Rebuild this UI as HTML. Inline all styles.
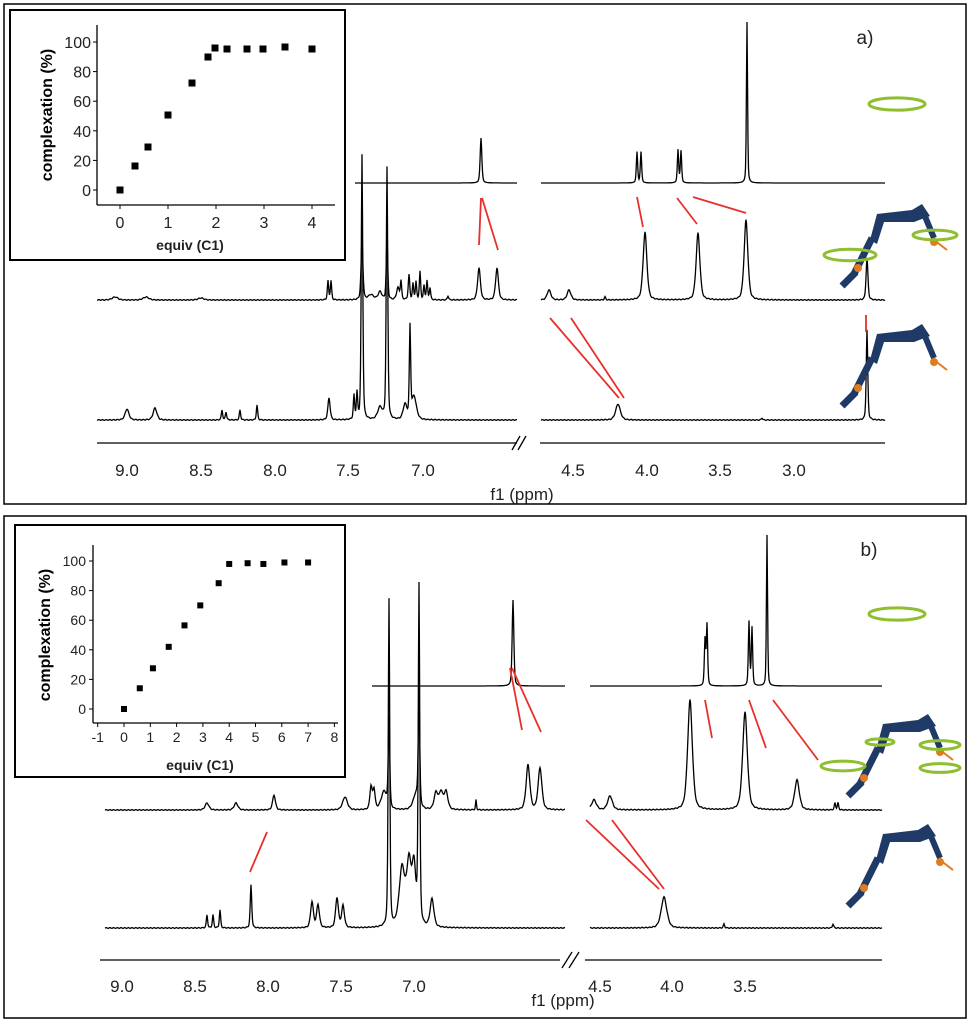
<!DOCTYPE html>
<html><head><meta charset="utf-8"><style>
html,body{margin:0;padding:0;background:#fff}
svg{display:block;font-family:"Liberation Sans",sans-serif}
</style></head><body>
<svg id="s" width="972" height="1024" viewBox="0 0 972 1024" xmlns="http://www.w3.org/2000/svg">
<rect x="4" y="4" width="962" height="500" fill="none" stroke="#000" stroke-width="1.5"/>
<rect x="4" y="516" width="962" height="502" fill="none" stroke="#000" stroke-width="1.5"/>
<g id="g"></g>
<g stroke="#000" stroke-width="1.3">
<line x1="97" y1="443" x2="517" y2="443"/><line x1="540" y1="443" x2="885" y2="443"/>
<line x1="512" y1="450" x2="520" y2="436"/><line x1="518" y1="450" x2="526" y2="436"/>
<line x1="100" y1="960" x2="560" y2="960"/><line x1="585" y1="960" x2="882" y2="960"/>
<line x1="562" y1="968" x2="572" y2="952"/><line x1="569" y1="968" x2="579" y2="952"/>
</g>
<g font-size="17" fill="#222" text-anchor="middle">
<text x="127" y="476">9.0</text><text x="201" y="476">8.5</text><text x="275" y="476">8.0</text><text x="348" y="476">7.5</text><text x="423" y="476">7.0</text>
<text x="573" y="476">4.5</text><text x="647" y="476">4.0</text><text x="720" y="476">3.5</text><text x="794" y="476">3.0</text>
<text x="522" y="500">f1 (ppm)</text>
<text x="122" y="992">9.0</text><text x="195" y="992">8.5</text><text x="268" y="992">8.0</text><text x="341" y="992">7.5</text><text x="414" y="992">7.0</text>
<text x="600" y="992">4.5</text><text x="672" y="992">4.0</text><text x="745" y="992">3.5</text>
<text x="563" y="1006">f1 (ppm)</text>
<text x="865" y="44" font-size="19">a)</text>
<text x="869" y="556" font-size="19">b)</text>
</g>
<g stroke="#e8302a" stroke-width="1.8">
<line x1="481" y1="198" x2="479" y2="245"/><line x1="482" y1="198" x2="498" y2="250"/>
<line x1="637" y1="197" x2="643" y2="227"/><line x1="677" y1="198" x2="697" y2="224"/><line x1="693" y1="197" x2="746" y2="213"/>
<line x1="550" y1="318" x2="619" y2="398"/><line x1="571" y1="318" x2="624" y2="398"/>
<line x1="866" y1="315" x2="866" y2="332"/>
<line x1="267" y1="832" x2="250" y2="872"/>
<line x1="510" y1="668" x2="522" y2="730"/><line x1="512" y1="668" x2="541" y2="732"/>
<line x1="705" y1="700" x2="712" y2="738"/><line x1="749" y1="700" x2="766" y2="748"/><line x1="773" y1="700" x2="818" y2="760"/>
<line x1="586" y1="820" x2="659" y2="889"/><line x1="612" y1="820" x2="664" y2="889"/>
</g>
<rect x="10" y="10" width="335" height="250" fill="#fff" stroke="#000" stroke-width="2"/>
<rect x="15" y="525" width="330" height="252" fill="#fff" stroke="#000" stroke-width="2"/>
<g stroke="#000" stroke-width="1.3">
<line x1="97" y1="25" x2="97" y2="205"/><line x1="97" y1="205" x2="335" y2="205"/>
<line x1="93" y1="545" x2="93" y2="723"/><line x1="93" y1="723" x2="338" y2="723"/>
</g>
<g font-size="14" fill="#222" text-anchor="middle">
<text x="190" y="250" font-weight="bold">equiv (C1)</text>
<text x="200" y="770" font-weight="bold">equiv (C1)</text>
</g>
<g id="ins"></g>
<text transform="translate(52,115) rotate(-90)" font-size="16" font-weight="bold" text-anchor="middle">complexation (%)</text>
<text transform="translate(50,635) rotate(-90)" font-size="16" font-weight="bold" text-anchor="middle">complexation (%)</text>
<g id="icons"></g>
</svg>
<script>
var NS="http://www.w3.org/2000/svg";
function el(p,t,a,txt){var e=document.createElementNS(NS,t);for(var k in a)e.setAttribute(k,a[k]);if(txt!==undefined)e.textContent=txt;p.appendChild(e);return e;}
var g=document.getElementById('g');
function trace(base,segs,peaks,noise){
 segs.forEach(function(sg){
  var d="";
  for(var x=sg[0];x<=sg[1];x+=0.5){
   var y=base;
   peaks.forEach(function(p){var w=p[2]||0.7;var dx=x-p[0];var h=base-p[1];
     y-=h*(0.5*w*w/(dx*dx+w*w)+0.5*Math.exp(-dx*dx/(2*w*w)));});
   if(noise)y+=Math.sin(x*1.7)*0.4;
   d+=(d?"L":"M")+x.toFixed(1)+","+y.toFixed(1);
  }
  el(g,'path',{d:d,fill:'none',stroke:'#000','stroke-width':1.3});
 });
}
trace(183,[[355,517],[541,885]],[[481,138,0.9],[637,152],[641,152],[678,150],[681,151],[747,22,0.6]]);
trace(300,[[97,517],[541,885]],[[115,297,3],[146,297,3],[201,298,3],[328,281],[331,281],[362,240,1],[371,295,3],[380,292,2],[387,237,0.8],[398,288,1.5],[401,282],[409,275,0.8],[413,284],[416,282],[420,272],[424,286],[427,281],[430,288],[448,296],[479,268,1.5],[497,268,1.5],[549,290,2],[569,290,2],[645,232,2],[698,233,2],[746,220,2],[605,297],[867,258,1]],true);
trace(420,[[97,517],[541,885]],[[127,409,2],[155,408,2],[222,410],[226,412],[240,410],[257,405],[329,398,1.2],[354,396],[357,394],[362,155,0.8],[380,408,2.5],[387,168,0.8],[405,405,2],[410,331,0.7],[414,397,2.5],[618,404,2.5],[762,418],[867,330,0.8]],true);
trace(686,[[372,565],[590,882]],[[513,600,0.9],[705,640],[707,625],[749,622],[752,628],[767,535,0.6]]);
trace(810,[[105,565],[590,882]],[[207,803,2],[236,803,2],[274,795,1.5],[345,797,2.5],[371,787,1.2],[374,790,1.2],[384,792,3],[389,720,0.8],[419,700,0.8],[416,795,3],[436,793,2],[441,793,2],[446,792,2],[476,800,0.5],[528,765,2],[540,768,2],[594,800,2.5],[610,796,2.5],[690,700,2.5],[745,712,2.5],[797,780,2.5],[835,803],[838,803]],true);
trace(928,[[105,565],[590,882]],[[207,915],[213,915],[220,910],[251,885,0.8],[312,902,1.5],[318,905,1.5],[337,898,1.5],[343,906,1.5],[389,600,0.8],[402,870,3],[409,866,2.5],[414,872,2],[419,590,0.8],[432,900,2],[664,897,3],[724,924],[833,924]],true);
var ins=document.getElementById('ins');
[[120,190],[135,166],[148,147],[168,115],[192,83],[208,57],[215,48],[227,49],[247,49],[263,49],[285,47],[312,49]].forEach(function(p){
 el(ins,'rect',{x:p[0]-3.5,y:p[1]-3.5,width:7,height:7,fill:'#000'});
});
[[0,0],[0.6,14],[1.1,27.5],[1.7,42],[2.3,56.5],[2.9,70],[3.6,85],[4.0,98],[4.7,98.5],[5.3,98],[6.1,99],[7.0,99]].forEach(function(p){var x=124+p[0]*26.3,y=709-148*p[1]/100;el(ins,'rect',{x:x-3,y:y-3,width:6,height:6,fill:'#000'});});
for(var i=0;i<=5;i++){var yy=190-i*29.6;el(ins,'text',{x:91,y:yy+6,'font-size':16,'text-anchor':'end',fill:'#222'},String(i*20));el(ins,'line',{x1:93,y1:yy,x2:97,y2:yy,stroke:'#000'});}
for(var i=0;i<=4;i++){el(ins,'text',{x:120+i*48,y:228,'font-size':16,'text-anchor':'middle',fill:'#222'},String(i));el(ins,'line',{x1:120+i*48,y1:205,x2:120+i*48,y2:209,stroke:'#000'});}
for(var i=0;i<=5;i++){el(ins,'text',{x:86,y:714-i*29.6,'font-size':14,'text-anchor':'end',fill:'#222'},String(i*20));el(ins,'line',{x1:89,y1:709-i*29.6,x2:93,y2:709-i*29.6,stroke:'#000'});}
for(var i=-1;i<=8;i++){el(ins,'text',{x:124+i*26.3,y:742,'font-size':14,'text-anchor':'middle',fill:'#222'},String(i));el(ins,'line',{x1:124+i*26.3,y1:723,x2:124+i*26.3,y2:727,stroke:'#000'});}
var ic=document.getElementById('icons');
function ring(cx,cy,w){el(ic,'ellipse',{cx:cx,cy:cy,rx:w,ry:w*0.22,fill:'none',stroke:'#8dbf2e','stroke-width':3});}
function mol(ox,oy){
 var c='#1f3a66';
 el(ic,'path',{d:'M'+(ox+8)+','+(oy+38)+' L'+(ox+15)+','+(oy+12)+' L'+(ox+50)+','+(oy+8)+' L'+(ox+60)+','+(oy+2)+' L'+(ox+68)+','+(oy+14)+' L'+(ox+52)+','+(oy+20)+' L'+(ox+22)+','+(oy+20)+' L'+(ox+15)+','+(oy+42)+'Z',fill:c});
 el(ic,'path',{d:'M'+(ox+10)+','+(oy+36)+' L'+(ox-8)+','+(oy+72),stroke:c,'stroke-width':7,fill:'none'});
 el(ic,'path',{d:'M'+(ox+62)+','+(oy+12)+' L'+(ox+72)+','+(oy+36),stroke:c,'stroke-width':6,fill:'none'});
 el(ic,'path',{d:'M'+(ox+72)+','+(oy+38)+' L'+(ox+85)+','+(oy+48),stroke:'#e07b20','stroke-width':2,fill:'none'});
 el(ic,'circle',{cx:ox+72,cy:oy+40,r:4,fill:'#e07b20'});
 el(ic,'circle',{cx:ox-4,cy:oy+66,r:4,fill:'#e07b20'});
 el(ic,'path',{d:'M'+(ox-6)+','+(oy+70)+' L'+(ox-20)+','+(oy+84),stroke:c,'stroke-width':7,fill:'none'});
}
ring(897,104,28);ring(897,614,28);
mol(862,202);ring(850,255,26);ring(935,235,22);
mol(862,322);
mol(868,712);ring(843,766,22);ring(880,742,14);ring(940,745,20);ring(940,768,20);
mol(868,822);
</script>
</body></html>
